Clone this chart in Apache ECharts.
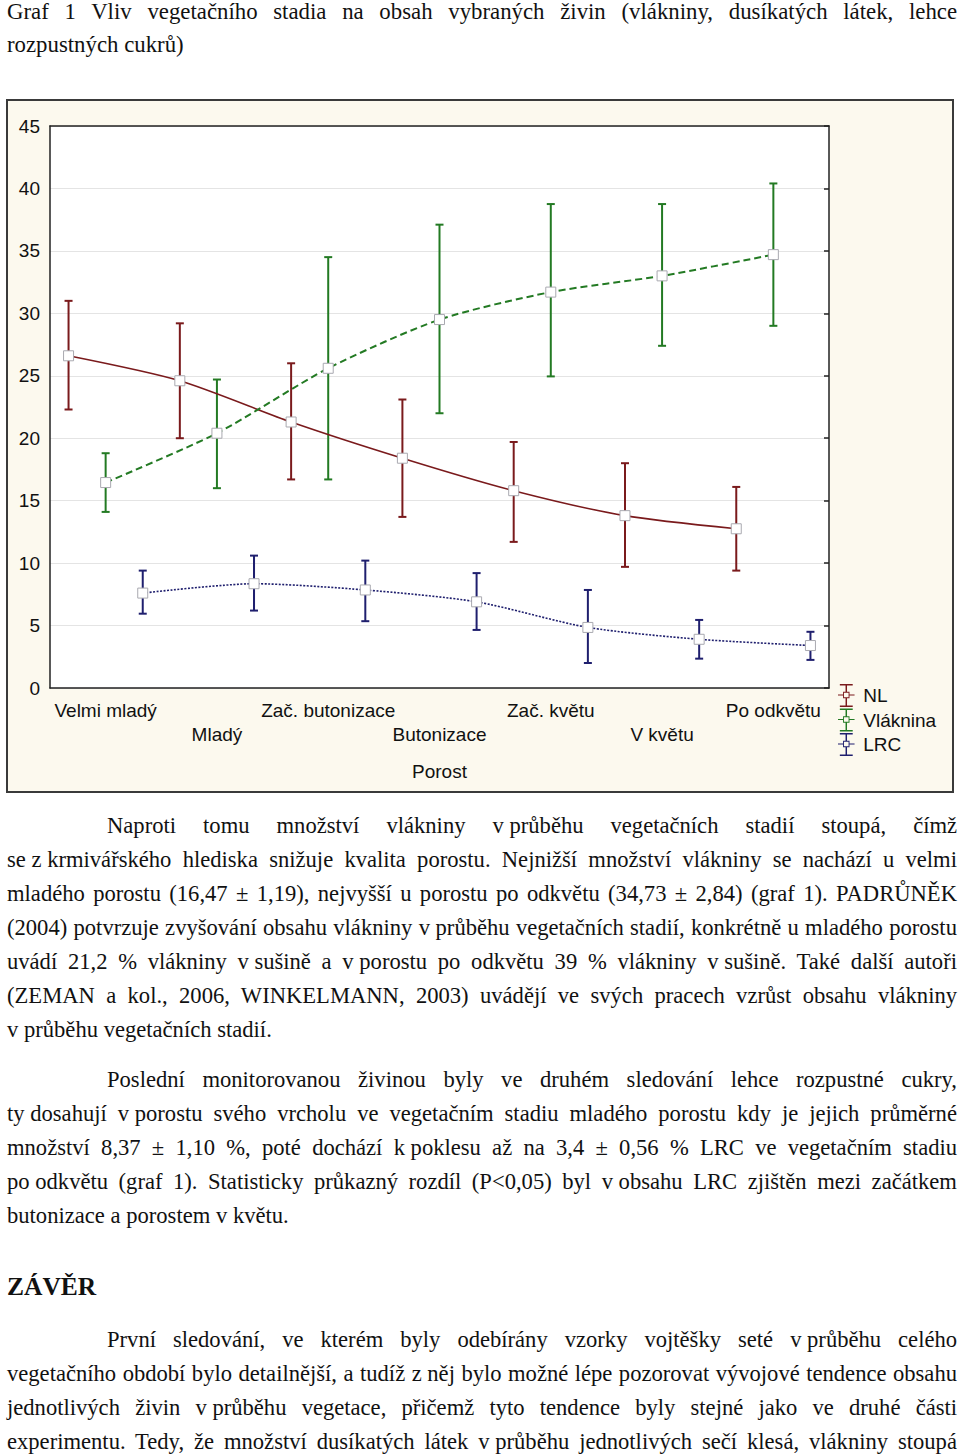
<!DOCTYPE html>
<html>
<head>
<meta charset="utf-8">
<script src="https://cdn.jsdelivr.net/npm/echarts@6/dist/echarts.min.js"></script>
<style>
  html, body { margin: 0; padding: 0; background: #fff; }
  body { width: 960px; height: 1456px; position: relative; overflow: hidden; }
  #chart { position: absolute; left: 0; top: 0; width: 960px; height: 810px; }
  .ln { position: absolute; left: 7px; width: 950px; height: 34px; line-height: 34px;
        font-family: 'Liberation Serif', 'Times New Roman', serif; font-size: 22.6px; color: #111;
        white-space: nowrap; z-index: 5; }
  .just { text-align: justify; text-align-last: justify; white-space: normal; }
  .tight { display: inline-block; white-space: pre; }
  .ttl { font-size: 22.8px; }
  .head { font-weight: bold; font-size: 25.5px; }
</style>
</head>
<body>
<div id="chart"></div>
<script>
// ---- data ----
const categories = ['Velmi mladý', 'Mladý', 'Zač. butonizace', 'Butonizace', 'Zač. květu', 'V květu', 'Po odkvětu'];
const seriesNames = ['NL', 'Vláknina', 'LRC'];

const nlMean = [26.6, 24.6, 21.3, 18.4, 15.8, 13.8, 12.75];
const nlLow  = [22.3, 20.0, 16.7, 13.7, 11.7, 9.7, 9.4];
const nlHigh = [31.0, 29.2, 26.0, 23.1, 19.7, 18.0, 16.1];

const vlMean = [16.45, 20.4, 25.6, 29.5, 31.7, 33.0, 34.7];
const vlLow  = [14.1, 16.0, 16.7, 22.0, 24.95, 27.4, 29.0];
const vlHigh = [18.8, 24.7, 34.5, 37.1, 38.75, 38.75, 40.4];

const lrcMean = [7.6, 8.35, 7.85, 6.9, 4.85, 3.9, 3.4];
const lrcLow  = [5.95, 6.2, 5.35, 4.65, 2.0, 2.35, 2.25];
const lrcHigh = [9.4, 10.6, 10.2, 9.2, 7.85, 5.45, 4.5];

const yMin = 0, yMax = 45, yStep = 5;

// ---- texts ----
const titleLines = [
  'Graf 1 Vliv vegetačního stadia na obsah vybraných živin (vlákniny, dusíkatých látek, lehce',
  'rozpustných cukrů)'
];
const para1 = [
  'Naproti tomu množství vlákniny v~průběhu vegetačních stadií stoupá, čímž',
  'se~z~krmivářského hlediska snižuje kvalita porostu. Nejnižší množství vlákniny se nachází u velmi',
  'mladého porostu (16,47 ± 1,19), nejvyšší u porostu po odkvětu (34,73 ± 2,84) (graf 1). PADRŮNĚK',
  '(2004) potvrzuje zvyšování obsahu vlákniny v~průběhu vegetačních stadií, konkrétně u mladého porostu',
  'uvádí 21,2 % vlákniny v~sušině a v~porostu po odkvětu 39 % vlákniny v~sušině. Také další autoři',
  '(ZEMAN a kol., 2006, WINKELMANN, 2003) uvádějí ve svých pracech vzrůst obsahu vlákniny',
  'v~průběhu vegetačních stadií.'
];
const para2 = [
  'Poslední monitorovanou živinou byly ve druhém sledování lehce rozpustné cukry,',
  'ty~dosahují v~porostu svého vrcholu ve vegetačním stadiu mladého porostu kdy je jejich průměrné',
  'množství 8,37 ± 1,10 %, poté dochází k~poklesu až na 3,4 ± 0,56 % LRC ve vegetačním stadiu',
  'po~odkvětu (graf 1). Statisticky průkazný rozdíl (P<0,05) byl v~obsahu LRC zjištěn mezi začátkem',
  'butonizace a porostem v~květu.'
];
const heading = 'ZÁVĚR';
const para3 = [
  'První sledování, ve kterém byly odebírány vzorky vojtěšky seté v~průběhu celého',
  'vegetačního období bylo detailnější, a tudíž z~něj bylo možné lépe pozorovat vývojové tendence obsahu',
  'jednotlivých živin v~průběhu vegetace, přičemž tyto tendence byly stejné jako ve druhé části',
  'experimentu. Tedy, že množství dusíkatých látek v~průběhu jednotlivých sečí klesá, vlákniny stoupá'
];

function addLine(text, centerY, opts) {
  const d = document.createElement('div');
  d.className = 'ln' + (opts.justify ? ' just' : '') + (opts.cls ? ' ' + opts.cls : '');
  d.style.top = (centerY - 17) + 'px';
  if (opts.indent) { d.style.paddingLeft = opts.indent + 'px'; d.style.width = (950 - opts.indent) + 'px'; }
  const toks = text.split(' ');
  toks.forEach((t, i) => {
    if (i > 0) d.appendChild(document.createTextNode(' '));
    if (t.indexOf('~') >= 0) {
      const s = document.createElement('span');
      s.className = 'tight';
      s.textContent = t.replace(/~/g, ' ');
      d.appendChild(s);
    } else {
      d.appendChild(document.createTextNode(t));
    }
  });
  document.body.appendChild(d);
}
function addPara(lines, startY, full) {
  lines.forEach((l, i) => {
    const last = (i === lines.length - 1) && !full;
    addLine(l, startY + i * 34, { justify: !last, indent: i === 0 ? 100 : 0 });
  });
}
addLine(titleLines[0], 12, { justify: true, cls: 'ttl' });
addLine(titleLines[1], 45, { justify: false, cls: 'ttl' });
addPara(para1, 826, false);
addPara(para2, 1080, false);
addLine(heading, 1287, { justify: false, cls: 'head' });
addPara(para3, 1340, true);

// ---- chart ----
const colors = ['#7a1a1c', '#237a23', '#1f1f6e'];
const offsets = [-1 / 3, 0, 1 / 3];
const lineTypes = ['solid', [7, 4], [2, 1.5]];
const lineWidths = [1.6, 2, 1.6];
const means = [nlMean, vlMean, lrcMean];
const lows = [nlLow, vlLow, lrcLow];
const highs = [nlHigh, vlHigh, lrcHigh];
const FONT = "'Liberation Sans', Arial, sans-serif";

function errRender(color) {
  return function (params, api) {
    const x = api.value(0), lo = api.value(1), hi = api.value(2);
    const p1 = api.coord([x, hi]), p2 = api.coord([x, lo]);
    const hw = 4;
    const st = { stroke: color, lineWidth: 2 };
    return { type: 'group', children: [
      { type: 'line', shape: { x1: p1[0], y1: p1[1], x2: p2[0], y2: p2[1] }, style: st },
      { type: 'line', shape: { x1: p1[0] - hw, y1: p1[1], x2: p1[0] + hw, y2: p1[1] }, style: st },
      { type: 'line', shape: { x1: p2[0] - hw, y1: p2[1], x2: p2[0] + hw, y2: p2[1] }, style: st }
    ] };
  };
}

const iconPath = 'path://M2 0H16V1.6H2Z M8.2 0H9.8V8.5H8.2Z M8.2 15.5H9.8V25H8.2Z M2 23.4H16V25H2Z ' +
  'M5.5 8.5H12.5V15.5H5.5Z M6.5 9.5V14.5H11.5V9.5Z M0 11.4H5.5V12.6H0Z M12.5 11.4H18V12.6H12.5Z';

const series = [];
seriesNames.forEach((name, k) => {
  series.push({
    type: 'custom', name: name, xAxisIndex: 2, yAxisIndex: 0,
    renderItem: errRender(colors[k]),
    encode: { x: 0, y: [1, 2] },
    data: lows[k].map((v, i) => [i + offsets[k], v, highs[k][i]]),
    z: 2, silent: true
  });
});
seriesNames.forEach((name, k) => {
  series.push({
    type: 'line', name: name, xAxisIndex: 2, yAxisIndex: 0,
    data: means[k].map((v, i) => [i + offsets[k], v]),
    smooth: 0.25,
    symbol: 'rect', symbolSize: 10,
    itemStyle: { color: '#ffffff', borderColor: '#a9a9b0', borderWidth: 1 },
    lineStyle: { color: colors[k], width: lineWidths[k], type: lineTypes[k] },
    z: 3, silent: true
  });
});

const axisLineStyle = { color: '#222', width: 1.5 };
const chart = echarts.init(document.getElementById('chart'), null, { renderer: 'svg' });
chart.setOption({
  animation: false,
  backgroundColor: 'transparent',
  graphic: [{
    type: 'rect', z: -100, silent: true,
    shape: { x: 7, y: 100, width: 946, height: 692 },
    style: { fill: '#fcf9ee', stroke: '#3a3a3a', lineWidth: 2 }
  }],
  grid: { left: 50, top: 126, width: 779, height: 562, show: true, backgroundColor: '#ffffff', borderWidth: 0 },
  legend: {
    orient: 'vertical', left: 838, top: 684, padding: 0,
    itemWidth: 24, itemHeight: 23, itemGap: 1.5, selectedMode: false,
    textStyle: { fontFamily: FONT, fontSize: 19, color: '#111', lineHeight: 22 },
    data: seriesNames.map((n, k) => ({ name: n, icon: iconPath, itemStyle: { color: colors[k], borderWidth: 0 } }))
  },
  xAxis: [
    {
      type: 'category', data: categories, position: 'bottom', boundaryGap: true,
      axisLine: { onZero: false, lineStyle: axisLineStyle },
      axisTick: { inside: true, alignWithLabel: true, length: 5, lineStyle: axisLineStyle },
      axisLabel: { interval: 0, margin: 10, fontFamily: FONT, fontSize: 19, lineHeight: 24, color: '#111',
                   formatter: (v, i) => (i % 2 ? '\n' + v : v) },
      splitLine: { show: false },
      name: 'Porost', nameLocation: 'middle', nameGap: 74,
      nameTextStyle: { fontFamily: FONT, fontSize: 19, color: '#111' }
    },
    {
      type: 'category', data: categories, position: 'top', boundaryGap: true,
      axisLine: { onZero: false, lineStyle: axisLineStyle },
      axisTick: { inside: true, alignWithLabel: true, length: 5, lineStyle: axisLineStyle },
      axisLabel: { show: false }, splitLine: { show: false }
    },
    { type: 'value', min: -0.5, max: categories.length - 0.5, show: false,
      axisLine: { onZero: false } }
  ],
  yAxis: [
    {
      type: 'value', min: yMin, max: yMax, interval: yStep, position: 'left',
      axisLine: { show: true, onZero: false, lineStyle: axisLineStyle },
      axisTick: { show: false },
      axisLabel: { margin: 10, fontFamily: FONT, fontSize: 19, color: '#111' },
      splitLine: { show: true, lineStyle: { color: '#e4e4e4', width: 1 } }
    },
    {
      type: 'value', min: yMin, max: yMax, interval: yStep, position: 'right',
      axisLine: { show: true, onZero: false, lineStyle: axisLineStyle },
      axisTick: { show: true, inside: true, length: 5, lineStyle: axisLineStyle },
      axisLabel: { show: false }, splitLine: { show: false }
    }
  ],
  series: series
});
</script>
</body>
</html>
